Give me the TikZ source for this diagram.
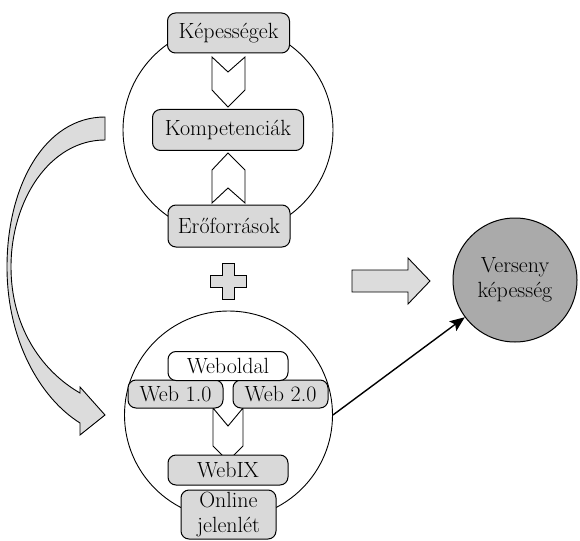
\documentclass[tikz,border=0pt]{standalone}
\usetikzlibrary{arrows.meta}
\definecolor{boxgray}{RGB}{217,217,217}
\definecolor{arrowgray}{RGB}{220,220,220}
\definecolor{darkgray2}{RGB}{170,170,170}
\begin{document}
\begin{tikzpicture}[x=1pt,y=-1pt,
  every node/.style={font=\fontsize{22}{25}\selectfont},
  rbox/.style={draw=black, line width=1pt, rounded corners=8pt, fill=boxgray, inner sep=0pt},
  wbox/.style={rbox, fill=white},
  bigcirc/.style={circle, draw=black, line width=0.9pt, fill=white, inner sep=0pt},
  chev/.style={draw=black, line width=0.9pt, fill=white, line join=miter},
  blockarr/.style={draw=black, line width=0.9pt, fill=arrowgray, line join=miter}
]
\useasboundingbox (0,0) rectangle (580,540);

% big circles
\node[bigcirc, minimum size=210pt] (topc) at (228,130) {};
\node[bigcirc, minimum size=208pt] (botc) at (228.5,415) {};

% chevrons in top circle
\draw[chev] (212,57) -- (228,72) -- (245,57) -- (245,90) -- (228,107) -- (212,90) -- cycle;
\draw[chev] (212,203) -- (228,188) -- (245,203) -- (245,170) -- (228,153) -- (212,170) -- cycle;
% chevron in bottom circle
\draw[chev] (213,408) -- (228,426) -- (243,408) -- (243,446) -- (228,461) -- (213,446) -- cycle;

% top boxes
\node[rbox, minimum width=122pt, minimum height=40pt] (kep) at (228.5,33) {Képességek};
\node[rbox, minimum width=151pt, minimum height=41pt] (komp) at (228,130) {Kompetenciák};
\node[rbox, minimum width=122pt, minimum height=42pt] (ero) at (229,226) {Erőforrások};

% bottom boxes
\node[rbox, minimum width=95pt, minimum height=28pt] (web1) at (175.5,394) {Web 1.0};
\node[rbox, minimum width=95pt, minimum height=28pt] (web2) at (280.5,394) {Web 2.0};
\node[wbox, minimum width=120pt, minimum height=29pt] (webold) at (228,366) {Weboldal};
\node[rbox, minimum width=120pt, minimum height=30pt] (webix) at (228,470) {WebIX};
\node[rbox, minimum width=95pt, minimum height=49pt, align=center] (online) at (228.5,514.5) {Online\\jelenlét};

% plus sign
\draw[blockarr] (222,263) -- (234,263) -- (234,275) -- (246,275) -- (246,287) -- (234,287)
  -- (234,299) -- (222,299) -- (222,287) -- (210,287) -- (210,275) -- (222,275) -- cycle;

% right block arrow
\draw[blockarr] (352,270) -- (408,270) -- (408,258) -- (430,281) -- (408,304) -- (408,292) -- (352,292) -- cycle;

% result circle
\node[circle, draw=black, line width=1pt, fill=darkgray2, minimum size=124pt, inner sep=0pt, align=center] (vers) at (515,280) {Verseny\\képesség};

% curved block arrow on the left
\draw[blockarr] (105,117) .. controls (45,117) and (7,185) .. (7,267)
  .. controls (7,340) and (40,398) .. (80,423) -- (80,435) -- (105,415) -- (80,387) -- (80,393)
  .. controls (40,370) and (11,325) .. (11,267)
  .. controls (11,200) and (50,140) .. (105,140) -- cycle;

% black arrow
\draw[line width=1.4pt, -{Stealth[length=15pt, width=12pt, inset=3pt]}] (botc.east) -- (vers);
\end{tikzpicture}
\end{document}
